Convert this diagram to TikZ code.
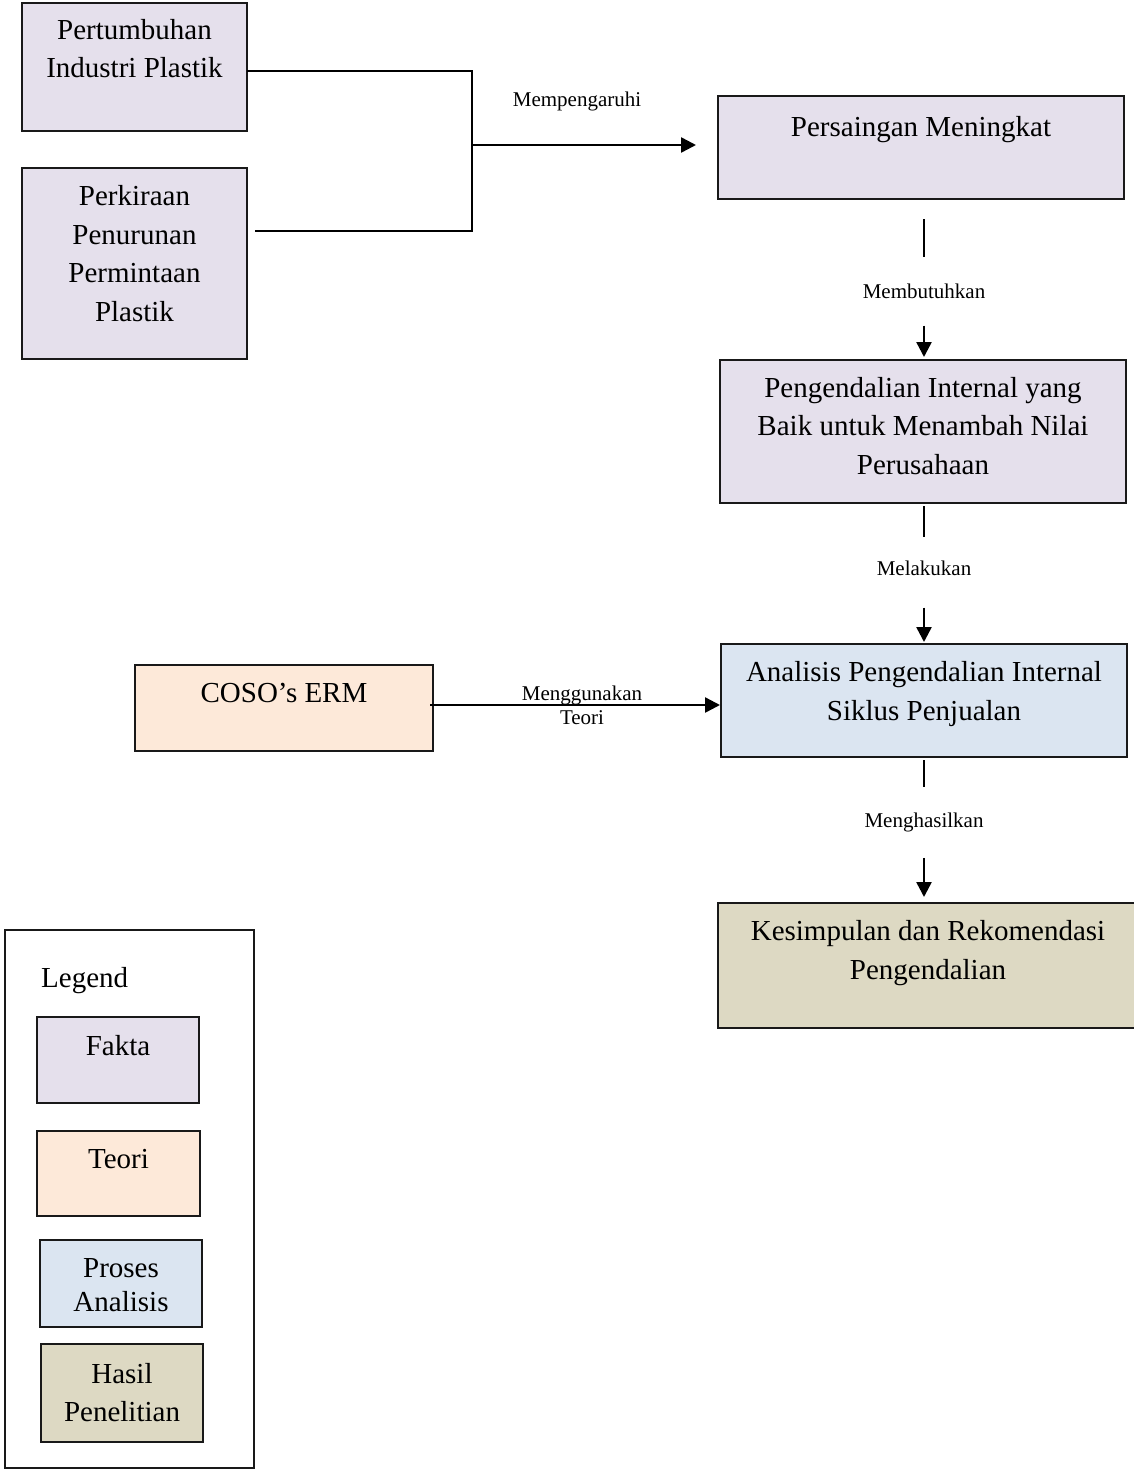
\documentclass[tikz,border=0pt]{standalone}
\usepackage{fontspec}
\setmainfont{Liberation Serif}
\usetikzlibrary{arrows.meta}
\definecolor{fakta}{RGB}{229,224,236}
\definecolor{teori}{RGB}{253,233,217}
\definecolor{proses}{RGB}{219,229,241}
\definecolor{hasil}{RGB}{221,217,195}
\tikzset{
  box/.style={draw=black!90, line width=2pt, inner sep=0pt, rectangle},
  txt/.style={align=center, inner sep=0pt, font=\fontsize{29}{38.5}\selectfont},
  lbl/.style={align=center, inner sep=0pt, font=\fontsize{21}{24}\selectfont},
  conn/.style={line width=2.5pt, draw=black},
  arr/.style={conn, -{Triangle[length=15pt,width=15pt]}}
}
\begin{document}
\begin{tikzpicture}[x=1pt,y=-1pt]
\useasboundingbox (0,0) rectangle (1134,1470);
\fill[white] (0,0) rectangle (1134,1470);
\begin{scope}
\clip (0,0) rectangle (1134,1470);
% boxes
\node[box, fill=fakta, minimum width=225pt, minimum height=128pt] (a) at (134.5,67) {};
\node[txt] at (134.5,48.5) {Pertumbuhan\\Industri Plastik};
\node[box, fill=fakta, minimum width=225pt, minimum height=191pt] (b) at (134.5,263.5) {};
\node[txt] at (134.5,253.5) {Perkiraan\\Penurunan\\Permintaan\\Plastik};
\node[box, fill=fakta, minimum width=406pt, minimum height=103pt] (c) at (921,147.5) {};
\node[txt] at (921,129.5) {Persaingan Meningkat};
\node[box, fill=fakta, minimum width=406pt, minimum height=143pt] (d) at (923,431.5) {};
\node[txt] at (923,426) {Pengendalian Internal yang\\Baik untuk Menambah Nilai\\Perusahaan};
\node[box, fill=proses, minimum width=406pt, minimum height=113pt] (e) at (924,700.5) {};
\node[txt] at (924,694) {Analisis Pengendalian Internal\\Siklus Penjualan};
\node[box, fill=teori, minimum width=298pt, minimum height=86pt] (f) at (284,708) {};
\node[txt] at (284,693) {COSO’s ERM};
\node[box, fill=hasil, minimum width=420pt, minimum height=125pt] (g) at (928,965.5) {};
\node[txt] at (928,953) {Kesimpulan dan Rekomendasi\\Pengendalian};
\end{scope}
% legend
\node[box, line width=1.6pt, fill=white, minimum width=249pt, minimum height=538pt] (leg) at (129.5,1199) {};
\node[txt, anchor=west] at (41,981) {Legend};
\node[box, fill=fakta, minimum width=162pt, minimum height=86pt] (l1) at (118,1060) {};
\node[txt] at (118,1046) {Fakta};
\node[box, fill=teori, minimum width=163pt, minimum height=85pt] (l2) at (118.5,1173.5) {};
\node[txt] at (118.5,1159) {Teori};
\node[box, fill=proses, minimum width=162pt, minimum height=87pt] (l3) at (121,1283.5) {};
\node[txt, font=\fontsize{29}{34}\selectfont] at (121,1285.5) {Proses\\Analisis};
\node[box, fill=hasil, minimum width=162pt, minimum height=98pt] (l4) at (122,1393) {};
\node[txt] at (122,1392.5) {Hasil\\Penelitian};
% connectors top-left
\coordinate (jt) at (472,71);
\coordinate (jb) at (472,231);
\coordinate (bs) at (256,231);
\coordinate (jm) at (472,145);
\draw[conn, line cap=rect] (a.east |- jt) -- (jt) -- (jb) -- (bs);
\draw[arr, shorten >=21pt] (jm) -- (c.west |- jm);
\node[lbl] (m0) at (577,101) {Mempengaruhi};
% C -> D
\node[lbl] (m1) at (924,291) {Membutuhkan};
\draw[conn, shorten <=19pt, shorten >=26pt] (c.south -| m1) -- (m1);
\draw[arr, shorten <=27pt, shorten >=2pt] (m1) -- (d.north -| m1);
% D -> E
\node[lbl] (m2) at (924,568) {Melakukan};
\draw[conn, shorten <=2pt, shorten >=23pt] (d.south -| m2) -- (m2);
\draw[arr, shorten <=32pt, shorten >=1pt] (m2) -- (e.north -| m2);
% E -> G
\node[lbl] (m3) at (924,822) {Menghasilkan};
\draw[conn, shorten <=2pt, shorten >=25pt] (e.south -| m3) -- (m3);
\draw[arr, shorten <=26pt, shorten >=5pt] (m3) -- (g.north -| m3);
% F -> E
\coordinate (fy) at (0,705);
\draw[arr, shorten <=-4pt] (f.east |- fy) -- (e.west |- fy);
\node[lbl] (m4) at (582,705) {Menggunakan\\Teori};
\end{tikzpicture}
\end{document}
